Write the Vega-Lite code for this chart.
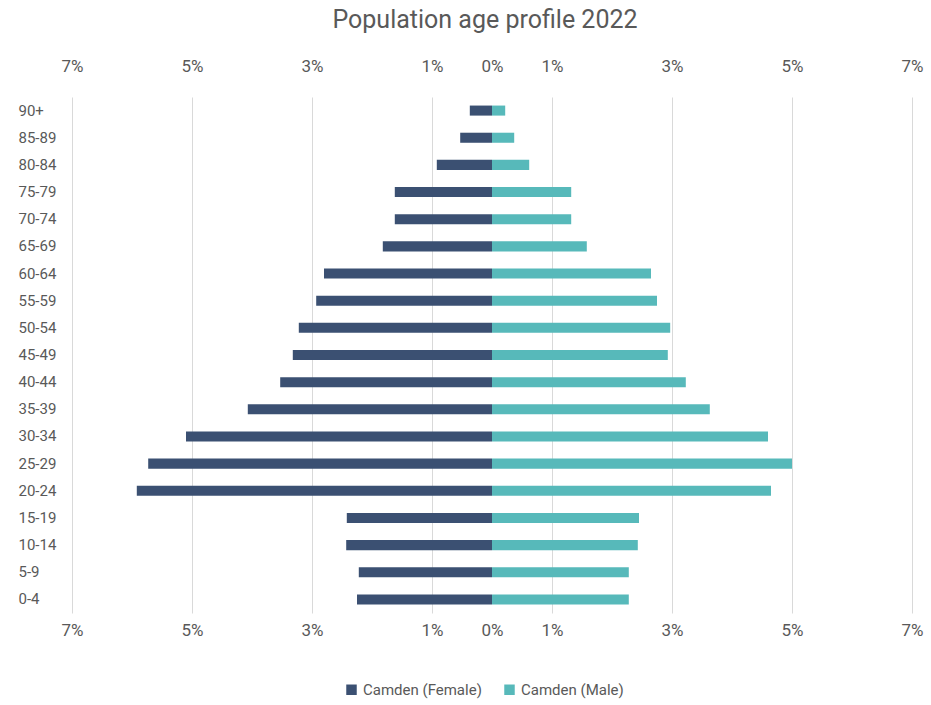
{
  "$schema": "https://vega.github.io/schema/vega-lite/v6.json",
  "width": 840,
  "height": 516,
  "autosize": {"type": "none"},
  "padding": {"left": 72, "top": 97, "right": 19, "bottom": 92},
  "background": "white",
  "title": {
    "text": "Population age profile 2022",
    "fontSize": 25,
    "font": "Roboto",
    "fontWeight": "normal",
    "color": "#595959",
    "anchor": "middle",
    "dx": -7,
    "offset": 24
  },
  "config": {
    "view": {"stroke": null},
    "font": "Roboto"
  },
  "data": {
    "values": [
      {"age": "90+", "sex": "Camden (Female)", "pct": 0.37},
      {"age": "85-89", "sex": "Camden (Female)", "pct": 0.53},
      {"age": "80-84", "sex": "Camden (Female)", "pct": 0.92},
      {"age": "75-79", "sex": "Camden (Female)", "pct": 1.62},
      {"age": "70-74", "sex": "Camden (Female)", "pct": 1.62},
      {"age": "65-69", "sex": "Camden (Female)", "pct": 1.82},
      {"age": "60-64", "sex": "Camden (Female)", "pct": 2.8},
      {"age": "55-59", "sex": "Camden (Female)", "pct": 2.93},
      {"age": "50-54", "sex": "Camden (Female)", "pct": 3.22},
      {"age": "45-49", "sex": "Camden (Female)", "pct": 3.32},
      {"age": "40-44", "sex": "Camden (Female)", "pct": 3.53},
      {"age": "35-39", "sex": "Camden (Female)", "pct": 4.07},
      {"age": "30-34", "sex": "Camden (Female)", "pct": 5.1},
      {"age": "25-29", "sex": "Camden (Female)", "pct": 5.73},
      {"age": "20-24", "sex": "Camden (Female)", "pct": 5.92},
      {"age": "15-19", "sex": "Camden (Female)", "pct": 2.42},
      {"age": "10-14", "sex": "Camden (Female)", "pct": 2.43},
      {"age": "5-9", "sex": "Camden (Female)", "pct": 2.22},
      {"age": "0-4", "sex": "Camden (Female)", "pct": 2.25},
      {"age": "90+", "sex": "Camden (Male)", "pct": 0.22},
      {"age": "85-89", "sex": "Camden (Male)", "pct": 0.37},
      {"age": "80-84", "sex": "Camden (Male)", "pct": 0.62},
      {"age": "75-79", "sex": "Camden (Male)", "pct": 1.32},
      {"age": "70-74", "sex": "Camden (Male)", "pct": 1.32},
      {"age": "65-69", "sex": "Camden (Male)", "pct": 1.58},
      {"age": "60-64", "sex": "Camden (Male)", "pct": 2.65},
      {"age": "55-59", "sex": "Camden (Male)", "pct": 2.75},
      {"age": "50-54", "sex": "Camden (Male)", "pct": 2.97},
      {"age": "45-49", "sex": "Camden (Male)", "pct": 2.93},
      {"age": "40-44", "sex": "Camden (Male)", "pct": 3.23},
      {"age": "35-39", "sex": "Camden (Male)", "pct": 3.63},
      {"age": "30-34", "sex": "Camden (Male)", "pct": 4.6},
      {"age": "25-29", "sex": "Camden (Male)", "pct": 5.0},
      {"age": "20-24", "sex": "Camden (Male)", "pct": 4.65},
      {"age": "15-19", "sex": "Camden (Male)", "pct": 2.45},
      {"age": "10-14", "sex": "Camden (Male)", "pct": 2.43},
      {"age": "5-9", "sex": "Camden (Male)", "pct": 2.28},
      {"age": "0-4", "sex": "Camden (Male)", "pct": 2.28}
    ]
  },
  "transform": [
    {"calculate": "datum.sex === 'Camden (Female)' ? -datum.pct : datum.pct", "as": "signed"}
  ],
  "encoding": {
    "y": {
      "field": "age",
      "type": "nominal",
      "sort": ["90+", "85-89", "80-84", "75-79", "70-74", "65-69", "60-64", "55-59", "50-54", "45-49", "40-44", "35-39", "30-34", "25-29", "20-24", "15-19", "10-14", "5-9", "0-4"],
      "scale": {"paddingInner": 0.63, "paddingOuter": 0.315},
      "axis": {
        "title": null,
        "ticks": false,
        "domain": false,
        "labelAlign": "left",
        "labelPadding": 54,
        "labelFontSize": 15,
        "labelColor": "#595959",
        "labelFont": "Roboto"
      }
    },
    "color": {
      "field": "sex",
      "type": "nominal",
      "scale": {"domain": ["Camden (Female)", "Camden (Male)"], "range": ["#3B5072", "#57B9BA"]},
      "legend": {
        "title": null,
        "orient": "none",
        "legendX": 272,
        "legendY": 585,
        "direction": "horizontal",
        "symbolType": "square",
        "symbolSize": 110,
        "symbolStrokeWidth": 0,
        "labelFontSize": 15,
        "labelColor": "#595959",
        "labelFont": "Roboto",
        "columnPadding": 20,
        "labelOffset": 4
      }
    }
  },
  "layer": [
    {
      "transform": [{"filter": "datum.sex === 'Camden (Female)'"}],
      "mark": {"type": "bar"},
      "encoding": {
        "x": {
          "field": "signed",
          "type": "quantitative",
          "scale": {"domain": [-7, 7], "nice": false, "zero": true},
          "axis": {
            "orient": "bottom",
            "title": null,
            "values": [-7, -5, -3, -1, 0, 1, 3, 5, 7],
            "labelExpr": "abs(datum.value) + '%'",
            "ticks": false,
            "domain": false,
            "labelFontSize": 17,
            "labelColor": "#595959",
            "labelFont": "Roboto",
            "labelPadding": 9,
            "labelFlush": false,
            "grid": true,
            "gridColor": "#D9D9D9",
            "gridWidth": 1,
            "gridOpacity": {"condition": {"test": "datum.value === 0", "value": 0}, "value": 1}
          }
        }
      }
    },
    {
      "transform": [{"filter": "datum.sex === 'Camden (Male)'"}],
      "mark": {"type": "bar"},
      "encoding": {
        "x": {
          "field": "signed",
          "type": "quantitative",
          "axis": {
            "orient": "top",
            "title": null,
            "values": [-7, -5, -3, -1, 0, 1, 3, 5, 7],
            "labelExpr": "abs(datum.value) + '%'",
            "ticks": false,
            "domain": false,
            "labelFontSize": 17,
            "labelColor": "#595959",
            "labelFont": "Roboto",
            "labelPadding": 22,
            "labelFlush": false,
            "grid": false
          }
        }
      }
    }
  ],
  "resolve": {"axis": {"x": "independent"}}
}
